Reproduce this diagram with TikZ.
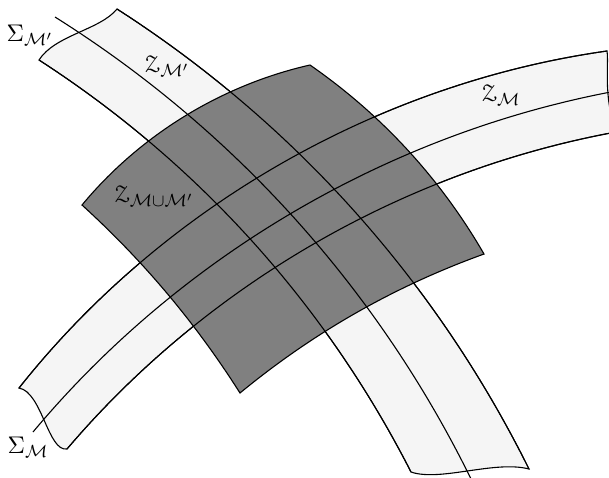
\documentclass[tikz,border=0pt]{standalone}
\usepackage{amsmath,amssymb}
\usepackage[mathscr]{eucal}

\definecolor{stripgray}{gray}{0.96}
\definecolor{patchgray}{gray}{0.5}

\begin{document}
\begin{tikzpicture}[x=0.455pt, y=0.455pt, line width=0.5pt, looseness=0.87,
  font=\fontsize{10.95}{13}\selectfont,
  strip/.style={fill=stripgray, draw=black},
  patch/.style={fill=patchgray, draw=black},
  lbl/.style={inner sep=1pt}]
\useasboundingbox (0,0) rectangle (609,477);
\clip (0,0) rectangle (609,477);
% corners of the strip M
\coordinate (m1) at (19,89);
\coordinate (m2) at (607,426);
\coordinate (m3) at (616,345);
\coordinate (m4) at (67,28);
% corners of the strip M'
\coordinate (n1) at (117,468);
\coordinate (n2) at (529,8);
\coordinate (n3) at (411,5);
\coordinate (n4) at (39,417);
% corners of the overlap patch
\coordinate (p1) at (82,272);
\coordinate (p2) at (310,412);
\coordinate (p3) at (484,223);
\coordinate (p4) at (240,84);

% the two strips
\path[strip] (m1) to[bend left=21.8] (m2) .. controls (609,412) and (603,382) .. (m3)
  to[bend right=19.6] (m4) .. controls (48,25) and (42,85) .. (m1) -- cycle;
\path[strip] (n1) to[bend left=15.45] (n2) .. controls (495,17) and (440,-5) .. (n3)
  to[bend right=15.04] (n4) .. controls (55,442) and (100,447) .. (n1) -- cycle;

% the patch Z_{M u M'}
\path[patch] (p1) to[bend left=18.8] (p2) to[bend left=12.6] (p3)
  to[bend right=9.8] (p4) to[bend right=7.6] cycle;

% strip edges again, over the patch
\draw (m1) to[bend left=21.8] (m2);
\draw (m4) to[bend left=19.6] (m3);
\draw (n1) to[bend left=15.45] (n2);
\draw (n4) to[bend left=15.04] (n3);
% the middle lines Sigma
\coordinate (s1) at (33,45);
\coordinate (s2) at (55,460);
\draw (s1) to[bend left=19.8] (616,386);
\draw (s2) to[bend left=15.95] (472.5,-5);

\node[lbl] (sigm) at (28,30) {$\Sigma_{\mathcal{M}}$};
\node[lbl] (sigmp) at (30,442) {$\Sigma_{\mathcal{M}'}$};
\node[lbl] (zmp) at (167,411) {$\mathscr{Z}_{\mathcal{M}'}$};
\node[lbl] (zm) at (501,382) {$\mathscr{Z}_{\mathcal{M}}$};
\node[lbl] (zu) at (154,281) {$\mathscr{Z}_{\mathcal{M}\cup\mathcal{M}'}$};
\end{tikzpicture}
\end{document}
